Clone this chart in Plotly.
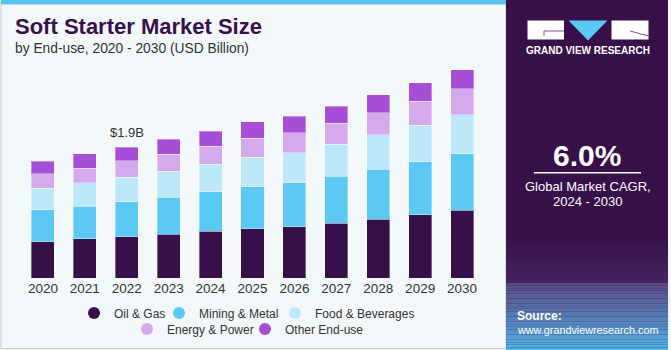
import plotly.graph_objects as go

# ---------------- data ----------------
years = ["2020", "2021", "2022", "2023", "2024", "2025", "2026", "2027", "2028", "2029", "2030"]
oil_gas = [0.528, 0.568, 0.597, 0.635, 0.678, 0.718, 0.747, 0.800, 0.853, 0.921, 0.984]
mining_metal = [0.466, 0.480, 0.514, 0.544, 0.578, 0.611, 0.640, 0.678, 0.728, 0.771, 0.825]
food_bev = [0.310, 0.335, 0.354, 0.378, 0.397, 0.426, 0.437, 0.472, 0.501, 0.534, 0.568]
energy_power = [0.214, 0.218, 0.239, 0.247, 0.262, 0.277, 0.287, 0.306, 0.325, 0.344, 0.374]
other_enduse = [0.179, 0.204, 0.198, 0.213, 0.224, 0.239, 0.242, 0.247, 0.262, 0.272, 0.281]
series_names = ["Oil & Gas", "Mining & Metal", "Food & Beverages", "Energy & Power", "Other End-use"]
series_values = [oil_gas, mining_metal, food_bev, energy_power, other_enduse]
series_colors = ["#37104a", "#5cc9f5", "#bde8f9", "#d5aaec", "#a64fd6"]
label_year = "2022"
label_text = "$1.9B"

# ---------------- layout geometry ----------------
W, H = 671, 350
ML, MR, MT, MB = 22, 188, 60, 72
PW, PH = W - ML - MR, H - MT - MB
YMAX = 3.173

def px(x):
    return (x - ML) / PW

def py(y):
    return (H - MB - y) / PH

FONT = "Liberation Sans, Arial, sans-serif"

fig = go.Figure()

for name, vals, col in zip(series_names, series_values, series_colors):
    fig.add_trace(go.Bar(
        x=years, y=vals, name=name, marker_color=col,
        marker_line=dict(width=1, color="rgba(255,255,255,0.35)"),
        width=0.55, showlegend=False, hoverinfo="x+y+name"))

# legend entries (circles): one small legend per entry, laid out in two rows
legend_pos = [(94, 313), (179, 313), (295, 313), (147, 329), (265, 329)]  # (marker x, row y) in px
legend_ids = ["legend", "legend2", "legend3", "legend4", "legend5"]
for name, col, lid in zip(series_names, series_colors, legend_ids):
    fig.add_trace(go.Scatter(
        x=[years[0]], y=[None], mode="markers", name=name,
        marker=dict(symbol="circle", size=12, color=col),
        legend=lid, showlegend=True, hoverinfo="skip"))

LEG_OFF = 20
legends = {}
for lid, (mx, my) in zip(legend_ids, legend_pos):
    legends[lid] = dict(orientation="h", xref="container", yref="container",
                        x=(mx - LEG_OFF) / W, xanchor="left", y=1 - my / H, yanchor="middle",
                        bgcolor="rgba(0,0,0,0)", font=dict(size=12, color="#333333"), itemwidth=30)

# total label above 2022
idx = years.index(label_year)
total = sum(v[idx] for v in series_values)
fig.add_annotation(xref="x", yref="y", x=idx, y=total, text=label_text, showarrow=False,
                   yanchor="bottom", yshift=5, font=dict(size=13, color="#333333", family=FONT))

shapes = []
# left panel background and border
shapes.append(dict(type="rect", xref="paper", yref="paper", x0=px(1), x1=px(506), y0=py(348.5), y1=py(1),
                   fillcolor="#f3f8fb", line=dict(color="#c9c9c9", width=1), layer="below"))
# top blue strip
shapes.append(dict(type="rect", xref="paper", yref="paper", x0=px(1), x1=px(506), y0=py(4.5), y1=py(0),
                   fillcolor="#5cc4ee", line=dict(width=0), layer="below"))
# right panel
shapes.append(dict(type="rect", xref="paper", yref="paper", x0=px(506), x1=px(668), y0=py(350), y1=py(0),
                   fillcolor="#37104a", line=dict(width=0), layer="below"))

# gradient at the bottom of the right panel
def lerp(c1, c2, t):
    a = [int(c1[i:i + 2], 16) for i in (1, 3, 5)]
    b = [int(c2[i:i + 2], 16) for i in (1, 3, 5)]
    return "rgb(%d,%d,%d)" % tuple(round(a[k] + (b[k] - a[k]) * t) for k in range(3))

n1 = 12
for k in range(n1):
    y0 = 235 + k * (283 - 235) / n1
    y1 = 235 + (k + 1) * (283 - 235) / n1
    shapes.append(dict(type="rect", xref="paper", yref="paper", x0=px(506), x1=px(668), y0=py(y1), y1=py(y0),
                       fillcolor=lerp("#37104a", "#43245f", k / (n1 - 1)), line=dict(width=0), layer="below"))
n2 = 26
for k in range(n2):
    y0 = 283 + k * (350 - 283) / n2
    y1 = 283 + (k + 1) * (350 - 283) / n2
    shapes.append(dict(type="rect", xref="paper", yref="paper", x0=px(506), x1=px(668), y0=py(y1), y1=py(y0),
                       fillcolor=lerp("#5a4a84", "#52b0e4", k / (n2 - 1)), line=dict(width=0), layer="below"))

# logo blocks
shapes.append(dict(type="rect", xref="paper", yref="paper", x0=px(527.5), x1=px(564), y0=py(39.5), y1=py(20.5),
                   fillcolor="white", line=dict(width=0), layer="above"))
shapes.append(dict(type="rect", xref="paper", yref="paper", x0=px(611.5), x1=px(648.5), y0=py(39.5), y1=py(20.5),
                   fillcolor="white", line=dict(width=0), layer="above"))
tri = "M %f,%f L %f,%f L %f,%f Z" % (px(568.5), py(20.5), px(607.5), py(20.5), px(588), py(40.5))
shapes.append(dict(type="path", xref="paper", yref="paper", path=tri, fillcolor="#5cc9f5",
                   line=dict(width=0), layer="above"))
# G notch and R notch lines
shapes.append(dict(type="path", xref="paper", yref="paper",
                   path="M %f,%f L %f,%f L %f,%f" % (px(564), py(31), px(544), py(31), px(544), py(36)),
                   line=dict(color="#7a5a90", width=1), layer="above"))
shapes.append(dict(type="line", xref="paper", yref="paper", x0=px(630), y0=py(31), x1=px(648.5), y1=py(36),
                   line=dict(color="#7a5a90", width=1), layer="above"))
# underline of CAGR value
shapes.append(dict(type="line", xref="paper", yref="paper", x0=px(534), y0=py(172.7), x1=px(641), y1=py(172.7),
                   line=dict(color="white", width=1.5), layer="above"))
fig.update_layout(shapes=shapes)

def ann(x, y, text, size, color, bold=False, xanchor="left", family=FONT):
    fig.add_annotation(xref="paper", yref="paper", x=px(x), y=py(y), text=("<b>%s</b>" % text) if bold else text,
                       showarrow=False, xanchor=xanchor, yanchor="middle",
                       font=dict(size=size, color=color, family=family))

ann(13, 27, "Soft Starter Market Size", 22, "#3a0f4d", bold=True)
ann(13, 48.5, "by End-use, 2020 - 2030 (USD Billion)", 13.8, "#333333")
ann(588, 51, "GRAND VIEW RESEARCH", 10, "white", bold=True, xanchor="center")
ann(587, 155, "6.0%", 30, "white", bold=True, xanchor="center")
ann(587.5, 186, "Global Market CAGR,", 13, "white", xanchor="center")
ann(587.5, 201, "2024 - 2030", 13, "white", xanchor="center")
ann(515, 316, "Source:", 12, "white", bold=True)
ann(515, 330, "www.grandviewresearch.com", 10.8, "white")

fig.update_layout(
    width=W, height=H,
    margin=dict(l=ML, r=MR, t=MT, b=MB, pad=0, autoexpand=False),
    paper_bgcolor="#f5f5f5", plot_bgcolor="rgba(0,0,0,0)",
    barmode="stack", bargap=0.45,
    font=dict(family=FONT, color="#333333"),
    xaxis=dict(type="category", range=[-0.5, len(years) - 0.5], showgrid=False, showline=False,
               zeroline=False, ticks="", tickfont=dict(size=13.5, color="#333333")),
    yaxis=dict(range=[0, YMAX], visible=False, showgrid=False, zeroline=False),
    **legends,
)

fig.write_html("out.html")
